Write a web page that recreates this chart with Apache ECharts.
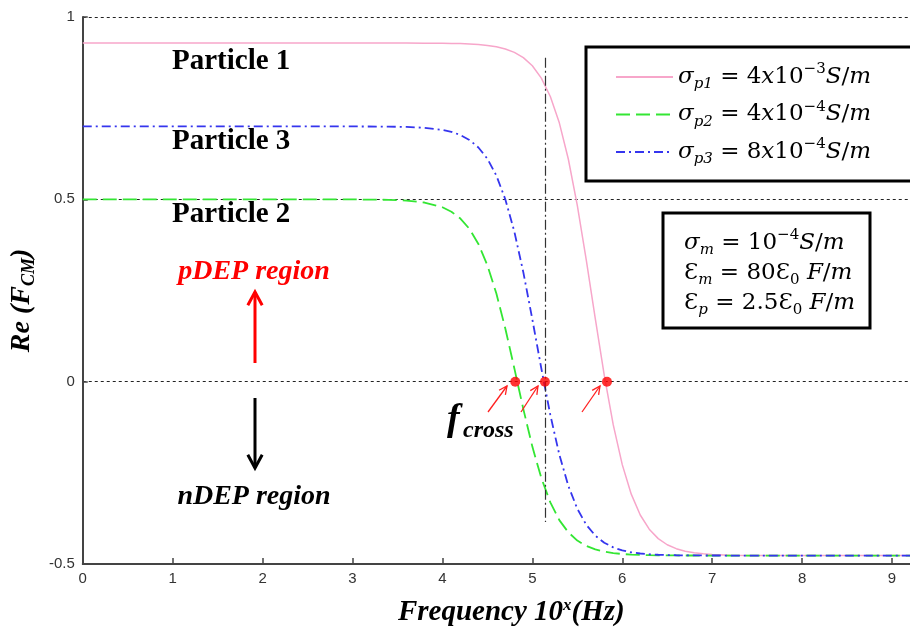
<!DOCTYPE html>
<html>
<head>
<meta charset="utf-8">
<script src="https://cdn.jsdelivr.net/npm/echarts@6/dist/echarts.min.js"></script>
<style>html,body{margin:0;padding:0;background:#fff;}#c{width:910px;height:633px;}</style>
</head>
<body>
<div id="c"></div>
<script>
// log10 frequency (x) sample positions
const xVals = [0,1,2,3,3.4,3.6,3.8,
  4.0,4.1,4.2,4.3,4.4,4.5,4.6,4.7,4.8,4.9,5.0,5.1,5.2,5.3,5.4,5.5,5.6,5.7,5.8,5.9,6.0,6.1,6.2,6.3,6.4,6.5,6.6,6.7,6.8,6.9,7.0,
  7.2,7.4,8,9,9.2];
// Re(F_CM) for each particle
const particle1 = [0.9286,0.9286,0.9286,0.9286,0.9286,0.9285,0.9283,
  0.9279,0.9276,0.9270,0.9260,0.9245,0.9221,0.9184,0.9124,0.9031,0.8887,0.8664,0.8324,0.7821,0.7097,0.6106,0.4835,0.3334,0.1726,0.0171,-0.1187,-0.2275,-0.3085,-0.3657,-0.4046,-0.4304,-0.4472,-0.4580,-0.4649,-0.4693,-0.4721,-0.4739,
  -0.4757,-0.4764,-0.4768,-0.4769,-0.4769];
const particle2 = [0.5,0.5,0.5,0.4998,0.4986,0.4965,0.4913,
  0.4783,0.4661,0.4473,0.4191,0.3776,0.3193,0.2416,0.1453,0.0363,-0.0752,-0.1781,-0.2644,-0.3311,-0.3796,-0.4131,-0.4357,-0.4505,-0.4601,-0.4662,-0.4701,-0.4726,-0.4742,-0.4752,-0.4758,-0.4762,-0.4765,-0.4766,-0.4767,-0.4767,-0.4768,-0.4768,
  -0.4769,-0.4769,-0.4769,-0.4769,-0.4769];
const particle3 = [0.7,0.7,0.7,0.6999,0.6994,0.6985,0.6962,
  0.6905,0.6850,0.6763,0.6629,0.6423,0.6112,0.5652,0.4997,0.4113,0.2998,0.1710,0.0361,-0.0912,-0.2000,-0.2856,-0.3485,-0.3925,-0.4222,-0.4418,-0.4545,-0.4627,-0.4679,-0.4712,-0.4733,-0.4746,-0.4755,-0.4760,-0.4763,-0.4765,-0.4766,-0.4767,
  -0.4768,-0.4769,-0.4769,-0.4769,-0.4769];
// crossover points
const crossX = [4.81, 5.14, 5.83];
const crossY = [0, 0, 0];
// vertical reference line
const vLineX = 5.14;
const vLineY = [0.888, -0.385];
const seriesNames = ['p1','p2','p3'];
const legendLabels = {
  p1: '{i|σ}{sub|p1}{n| = 4}{i|x}{n|10}{sup|−3}{i|S}{n|/}{i|m}',
  p2: '{i|σ}{sub|p2}{n| = 4}{i|x}{n|10}{sup|−4}{i|S}{n|/}{i|m}',
  p3: '{i|σ}{sub|p3}{n| = 8}{i|x}{n|10}{sup|−4}{i|S}{n|/}{i|m}'
};
const paramLines = [
  '{i|σ}{sub|m}{n| = 10}{sup|−4}{i|S}{n|/}{i|m}',
  '{n|Ɛ}{sub|m}{n| = 80Ɛ}{sub0|0}{n| }{i|F}{n|/}{i|m}',
  '{n|Ɛ}{sub|p}{n| = 2.5Ɛ}{sub0|0}{n| }{i|F}{n|/}{i|m}'
];

const MF = 'DejaVu Serif';
const mathRich = {
  n:{fontFamily:MF,fontSize:23,lineHeight:30,color:'#000'},
  i:{fontFamily:MF,fontSize:23,fontStyle:'italic',lineHeight:30,color:'#000'},
  sub:{fontFamily:MF,fontSize:15,fontStyle:'italic',lineHeight:13,verticalAlign:'bottom',color:'#000'},
  sub0:{fontFamily:MF,fontSize:15,lineHeight:13,verticalAlign:'bottom',color:'#000'},
  sup:{fontFamily:MF,fontSize:15,lineHeight:15,verticalAlign:'top',color:'#000'}
};
const TF = 'Liberation Serif';

function arrow(x1,y1,x2,y2,color,w,len,ang){
  const a = Math.atan2(y2-y1,x2-x1);
  return [
    {type:'line',z:100,shape:{x1:x1,y1:y1,x2:x2,y2:y2},style:{stroke:color,lineWidth:w}},
    {type:'polyline',z:100,shape:{points:[[x2-len*Math.cos(a-ang),y2-len*Math.sin(a-ang)],[x2,y2],[x2-len*Math.cos(a+ang),y2-len*Math.sin(a+ang)]]},style:{stroke:color,lineWidth:w,fill:null}}
  ];
}
function label(text,x,y,size,opts){
  return {type:'text',z:100,x:x,y:y,style:Object.assign({text:text,fontFamily:TF,fontWeight:'bold',fontSize:size,fill:'#000',verticalAlign:'middle',align:'left'},opts||{})};
}

const chart = echarts.init(document.getElementById('c'));
const graphics = [
  label('Particle 1',172,62,29),
  label('Particle 3',172,142,29),
  label('Particle 2',172,215,29),
  label('pDEP region',254,272,28,{fill:'#ff0000',fontStyle:'italic',align:'center'}),
  label('nDEP region',254,497,28,{fontStyle:'italic',align:'center'}),
  label('f',447,420,38,{fontStyle:'italic'}),
  label('cross',463,431,24,{fontStyle:'italic'}),
  {type:'rect',z:90,shape:{x:663,y:213,width:207,height:115},style:{fill:'#fff',stroke:'#000',lineWidth:3}},
  {type:'text',z:100,x:684,y:228,style:{text:paramLines.join('\n'),rich:mathRich,verticalAlign:'top',align:'left'}}
].concat(
  arrow(255,363,255,292,'#ff0000',3,15,0.5),
  arrow(255,398,255,468,'#000',3,15,0.5),
  arrow(488,412,507,386,'#ff2020',1.3,9,0.45),
  arrow(521,412,538,386,'#ff2020',1.3,9,0.45),
  arrow(582,412,600,386,'#ff2020',1.3,9,0.45)
);

const seriesColors = ['#F7A6CA','#33E633','#3535EE'];
const seriesData = [particle1, particle2, particle3];
const lineTypes = ['solid',[14,6],[9,4,2,4]];
const series = seriesNames.map(function(nm,k){
  return {
    name:nm,type:'line',symbol:'none',showSymbol:false,smooth:false,
    data:xVals.map(function(x,i){return [x,seriesData[k][i]];}),
    lineStyle:{color:seriesColors[k],width:k===0?1.5:1.8,type:lineTypes[k]},
    itemStyle:{color:seriesColors[k]},
    z:3
  };
});
series[0].markLine = {
  silent:true,symbol:'none',label:{show:false},
  lineStyle:{color:'#333',type:[10,3,2,3],width:1.2},
  data:[[{coord:[vLineX,vLineY[0]]},{coord:[vLineX,vLineY[1]]}]]
};
series.push({
  name:'cross',type:'scatter',symbol:'circle',symbolSize:10,
  data:crossX.map(function(x,i){return [x,crossY[i]];}),
  itemStyle:{color:'#ff0000'},z:10
});

chart.setOption({
  animation:false,
  backgroundColor:'#fff',
  grid:{left:76,top:17,width:835,height:547},
  xAxis:{
    type:'value',min:0,max:9.2,interval:1,
    axisLine:{show:true,onZero:false,lineStyle:{color:'#444',width:2}},
    axisTick:{show:true,inside:true,length:6,lineStyle:{color:'#444',width:1.5}},
    axisLabel:{color:'#333',fontFamily:'Liberation Sans Narrow, Liberation Sans',fontSize:15,margin:7,showMaxLabel:false},
    splitLine:{show:false},
    name:'{b|Frequency 10}{s|x}{b|(Hz)}',nameLocation:'middle',nameGap:33,
    nameTextStyle:{padding:[0,0,0,30],rich:{
      b:{fontFamily:TF,fontWeight:'bold',fontStyle:'italic',fontSize:29,lineHeight:32,color:'#000'},
      s:{fontFamily:TF,fontWeight:'bold',fontStyle:'italic',fontSize:17,lineHeight:16,verticalAlign:'top',color:'#000'}}}
  },
  yAxis:{
    type:'value',min:-0.5,max:1,interval:0.5,
    axisLine:{show:true,onZero:false,lineStyle:{color:'#444',width:2}},
    axisTick:{show:true,inside:true,length:5,lineStyle:{color:'#444',width:1.5}},
    axisLabel:{color:'#333',fontFamily:'Liberation Sans Narrow, Liberation Sans',fontSize:15,margin:8},
    splitLine:{show:true,lineStyle:{color:'#222',type:[3,3],width:1}},
    name:'{b|Re (F}{s|CM}{b|)}',nameLocation:'middle',nameRotate:90,nameGap:36,
    nameTextStyle:{padding:[0,20,0,0],rich:{
      b:{fontFamily:TF,fontWeight:'bold',fontStyle:'italic',fontSize:28,lineHeight:32,color:'#000'},
      s:{fontFamily:TF,fontWeight:'bold',fontStyle:'italic',fontSize:18,lineHeight:14,verticalAlign:'bottom',color:'#000'}}}
  },
  legend:{
    data:seriesNames,orient:'vertical',left:586,top:47,
    padding:[15,60,14,29],itemGap:7.5,itemWidth:57,itemHeight:14,
    borderColor:'#000',borderWidth:3,backgroundColor:'#fff',
    align:'left',
    itemStyle:{opacity:0},
    formatter:function(n){return legendLabels[n];},
    textStyle:{rich:mathRich}
  },
  series:series,
  graphic:graphics
});
</script>
</body>
</html>
